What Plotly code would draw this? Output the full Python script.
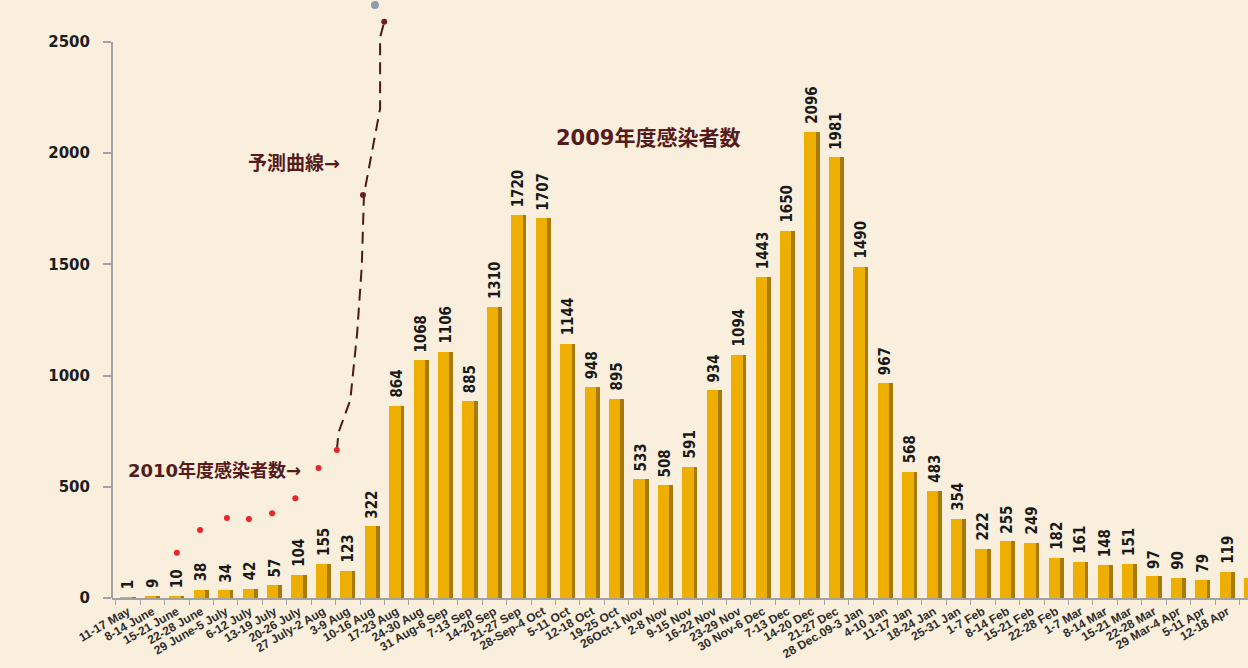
import plotly.graph_objects as go

# ---------------- data ----------------
week_labels = [
    "11-17 May", "8-14 June", "15-21 June", "22-28 June", "29 June-5 July",
    "6-12 July", "13-19 July", "20-26 July", "27 July-2 Aug", "3-9 Aug",
    "10-16 Aug", "17-23 Aug", "24-30 Aug", "31 Aug-6 Sep", "7-13 Sep",
    "14-20 Sep", "21-27 Sep", "28-Sep-4 Oct", "5-11 Oct", "12-18 Oct",
    "19-25 Oct", "26Oct-1 Nov", "2-8 Nov", "9-15 Nov", "16-22 Nov",
    "23-29 Nov", "30 Nov-6 Dec", "7-13 Dec", "14-20 Dec", "21-27 Dec",
    "28 Dec.09-3 Jan", "4-10 Jan", "11-17 Jan", "18-24 Jan", "25-31 Jan",
    "1-7 Feb", "8-14 Feb", "15-21 Feb", "22-28 Feb", "1-7 Mar",
    "8-14 Mar", "15-21 Mar", "22-28 Mar", "29 Mar-4 Apr", "5-11 Apr",
    "12-18 Apr", "19-25 Apr",
]
cases_2009 = [
    1, 9, 10, 38, 34, 42, 57, 104, 155, 123,
    322, 864, 1068, 1106, 885, 1310, 1720, 1707, 1144, 948,
    895, 533, 508, 591, 934, 1094, 1443, 1650, 2096, 1981,
    1490, 967, 568, 483, 354, 222, 255, 249, 182, 161,
    148, 151, 97, 90, 79, 119, 90,
]
# 2010 season (red dots), positions on the week axis
pos_2010 = [2.0, 2.95, 4.05, 4.95, 5.9, 6.85, 7.8, 8.55]
cases_2010 = [204, 306, 360, 355, 381, 448, 585, 665]
# forecast curve (dashed)
forecast_pos = [8.55, 8.62, 9.1, 9.38, 9.57, 9.62, 9.66, 9.72, 10.18, 10.32, 10.32, 10.49]
forecast_val = [665, 745, 890, 1190, 1490, 1760, 1812, 1850, 2120, 2200, 2520, 2591]
forecast_mark_pos = [9.62, 10.49]
forecast_mark_val = [1812, 2591]
extra_mark_pos = [10.11]
extra_mark_val = [2666]

y_ticks = [0, 500, 1000, 1500, 2000, 2500]

# ---------------- figure ----------------
BG = "#F9EFDC"
MAROON = "#561B1B"
AXIS = "#A3A3A3"

idx = list(range(len(cases_2009)))
fig = go.Figure()

fig.add_bar(x=idx, y=cases_2009, width=0.62, marker_color="#A97A06",
            marker_line_width=0, hoverinfo="skip", showlegend=False)
fig.add_bar(x=idx, y=cases_2009, width=0.47, offset=-0.31, marker_color="#EFAF00",
            marker_line_width=0, showlegend=False)

fig.add_scatter(x=forecast_pos, y=forecast_val, mode="lines",
                line=dict(color="#4A1A1A", width=2, dash="12px,7px"),
                showlegend=False)
fig.add_scatter(x=forecast_mark_pos, y=forecast_mark_val, mode="markers",
                marker=dict(color="#6A2020", size=6), showlegend=False)
fig.add_scatter(x=extra_mark_pos, y=extra_mark_val, mode="markers",
                marker=dict(color="#8E9CB2", size=8), showlegend=False)
fig.add_scatter(x=pos_2010, y=cases_2010, mode="markers",
                marker=dict(color="#E8262B", size=6), showlegend=False)

for i, v in zip(idx, cases_2009):
    fig.add_annotation(x=i, y=v, text=str(v), textangle=-90, yanchor="bottom",
                       xanchor="center", yshift=6, showarrow=False,
                       font=dict(family="Liberation Sans Narrow, DejaVu Sans Condensed, sans-serif",
                                 size=15, color="#1A1A1A", weight="bold"))

label_font = "DejaVu Sans, Noto Sans CJK JP, sans-serif"
fig.add_annotation(xref="paper", yref="paper", x=0.4718, y=0.7692,
                   xanchor="center", yanchor="middle",
                   text="2009年度感染者数", showarrow=False,
                   font=dict(family=label_font, size=21, color=MAROON, weight="bold"))
fig.add_annotation(xref="paper", yref="paper", x=0.1602, y=0.7274,
                   xanchor="center", yanchor="middle",
                   text="予測曲線→", showarrow=False,
                   font=dict(family=label_font, size=19, color=MAROON, weight="bold"))
fig.add_annotation(xref="paper", yref="paper", x=0.0898, y=0.2124,
                   xanchor="center", yanchor="middle",
                   text="2010年度感染者数→", showarrow=False,
                   font=dict(family=label_font, size=18, color=MAROON, weight="bold"))

fig.add_shape(type="line", xref="paper", yref="y", x0=0, x1=0, y0=0, y1=2500,
              line=dict(color=AXIS, width=2))

fig.update_layout(
    width=1248, height=668,
    margin=dict(l=112, r=0, t=0, b=70),
    paper_bgcolor=BG, plot_bgcolor=BG,
    barmode="overlay", bargap=0,
    xaxis=dict(range=[-0.655, 45.85], tickvals=idx, ticktext=week_labels,
               tickangle=-30, ticks="", showgrid=False, zeroline=False,
               showline=True, linecolor=AXIS, linewidth=2,
               tickfont=dict(family="Liberation Sans, Arial, sans-serif", size=12,
                             color="#2E2E2E", weight="bold"),
               minor=dict(ticks="outside", ticklen=5, tickcolor=AXIS, tickwidth=1,
                          tick0=-0.5, dtick=1, showgrid=False)),
    yaxis=dict(range=[0, 2689], tickvals=y_ticks, ticks="outside", ticklen=8,
               tickwidth=2, tickcolor=AXIS, showgrid=False, zeroline=False,
               showline=False, ticklabelstandoff=10,
               tickfont=dict(family="DejaVu Sans, sans-serif", size=15,
                             color="#1E1E1E", weight="bold")),
)

fig.write_html("out.html")
